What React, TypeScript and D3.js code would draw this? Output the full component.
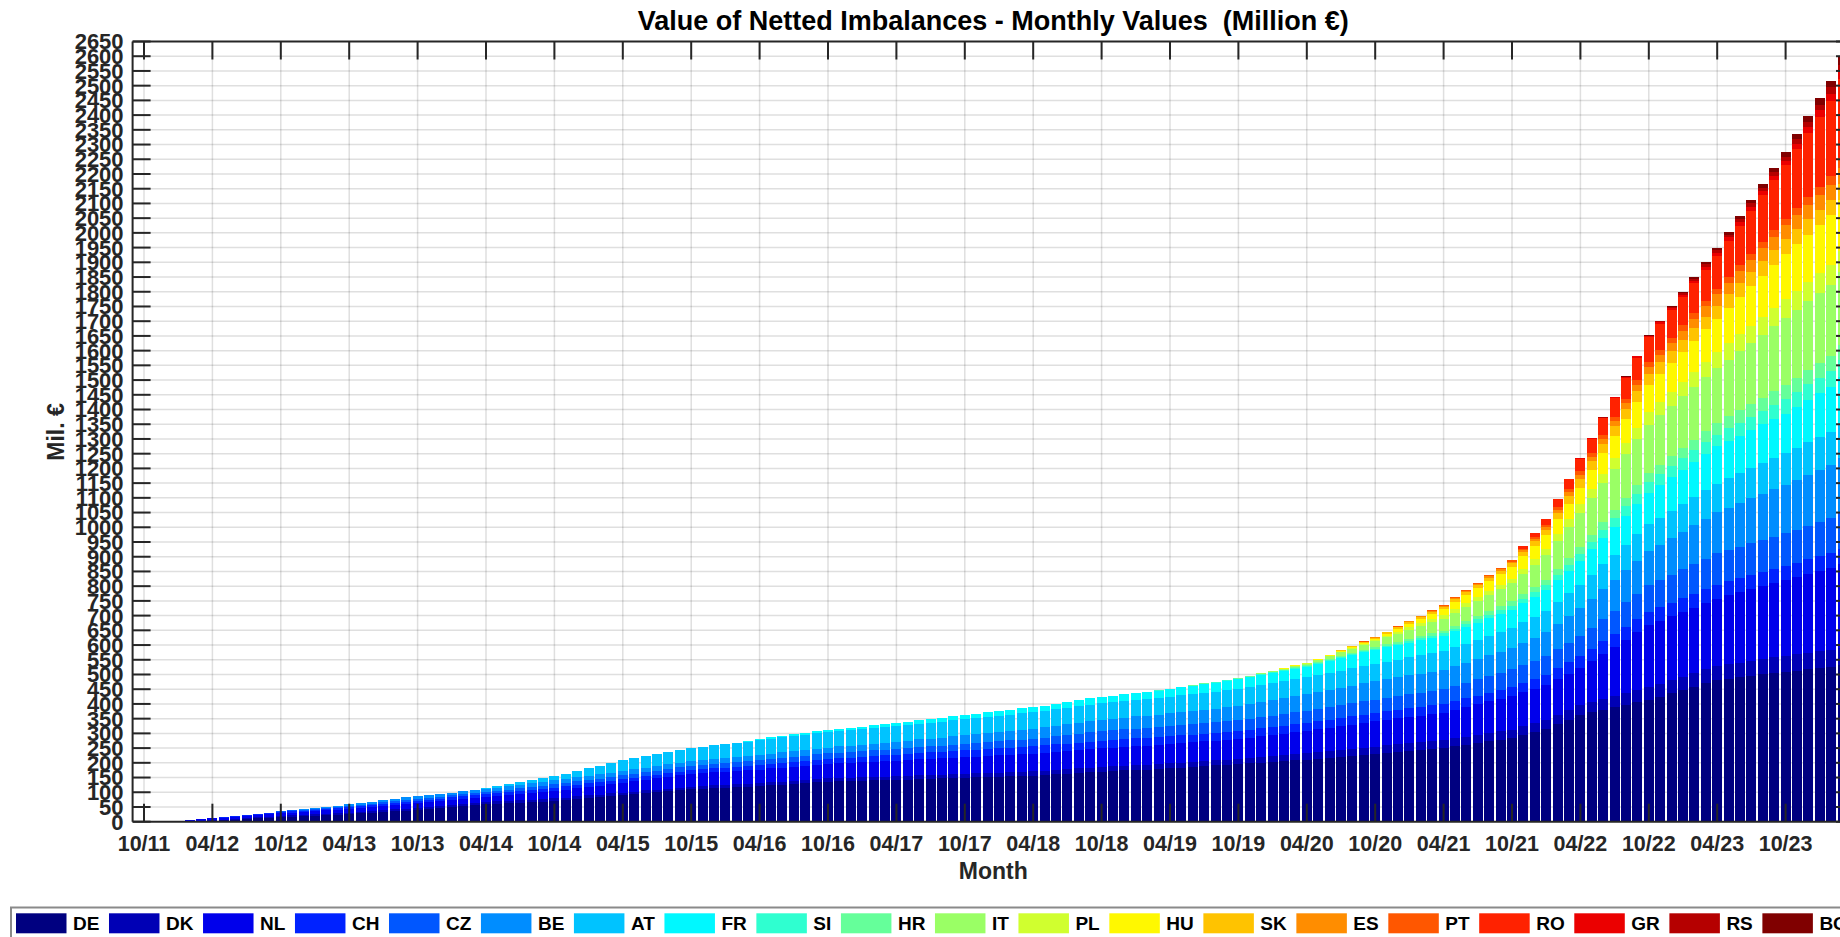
import React, { useEffect, useRef } from "react";
import * as d3 from "d3";

// months are counted from 10/2011 (index 0) up to 03/2024 (index 149)
const MONTHS = 150;

const countries = ["DE", "DK", "NL", "CH", "CZ", "BE", "AT", "FR", "SI", "HR", "IT", "PL", "HU", "SK", "ES", "PT", "RO", "GR", "RS", "BG"];

// first month index of each array below
const startMonth: Record<string, number> = {
    DE: 4, DK: 4, NL: 4, CH: 5, CZ: 7, BE: 12, AT: 30, FR: 52, SI: 88, HR: 88,
    IT: 95, PL: 100, HU: 100, SK: 104, ES: 106, PT: 107, RO: 118, GR: 124, RS: 125, BG: 129,
};

// cumulative value per country, Mil. €
const DE = [1, 2, 3, 5, 7, 9, 11, 13, 15, 17, 18, 20, 22, 23, 25, 28, 30, 33, 35, 38, 40, 43, 46, 50, 53, 56, 59, 61, 63, 65, 66, 68, 70, 73, 77, 80, 83, 87, 90, 93, 97, 100, 103, 107, 110, 112, 114, 116, 117, 119, 121, 124, 126, 129, 131, 134, 136, 137, 138, 139, 140, 141, 142, 143, 145, 146, 147, 149, 150, 151, 152, 153, 154, 155, 156, 158, 161, 163, 165, 168, 170, 172, 174, 176, 177, 179, 181, 184, 186, 189, 191, 194, 196, 198, 201, 203, 205, 208, 210, 213, 217, 220, 223, 227, 230, 234, 237, 241, 244, 248, 251, 257, 262, 268, 274, 279, 285, 295, 306, 316, 332, 347, 363, 371, 380, 388, 396, 405, 413, 424, 436, 447, 458, 470, 481, 486, 490, 495, 500, 504, 509, 513, 518, 522, 526, 532];
const DK = [1, 1.5, 2, 2.3, 2.7, 3, 3.3, 3.7, 4, 4.3, 4.7, 5, 5.3, 5.7, 6, 6.2, 6.3, 6.5, 6.7, 6.8, 7, 7.3, 7.7, 8, 8.3, 8.7, 9, 9, 9, 9, 9, 9, 9, 9, 9, 9, 9, 9, 9, 9, 9, 9, 9, 9, 9, 9.2, 9.3, 9.5, 9.7, 9.8, 10, 10.2, 10.3, 10.5, 10.7, 10.8, 11, 11.2, 11.3, 11.5, 11.7, 11.8, 12, 12.2, 12.3, 12.5, 12.7, 12.8, 13, 13.3, 13.7, 14, 14.3, 14.7, 15, 15.2, 15.3, 15.5, 15.7, 15.8, 16, 16.2, 16.3, 16.5, 16.7, 16.8, 17, 17, 17, 17, 17, 17, 17, 17.8, 18.7, 19.5, 20.3, 21.2, 22, 22.5, 23, 23.5, 24, 24.5, 25, 25.2, 25.3, 25.5, 25.7, 25.8, 26, 26.3, 26.7, 27, 27.3, 27.7, 28, 28.7, 29.3, 30, 31.3, 32.7, 34, 35.5, 37, 38.5, 40, 41.5, 43, 43.8, 44.7, 45.5, 46.3, 47.2, 48, 49.2, 50.3, 51.5, 52.7, 53.8, 55, 55.5, 56, 56.5, 57, 58];
const NL = [4, 5, 6, 6.5, 7, 7.5, 8, 8.5, 9, 9.5, 10, 10.5, 11, 11.5, 12, 12.5, 13, 13.5, 14, 14.5, 15, 15.2, 15.3, 15.5, 15.7, 15.8, 16, 17.7, 19.3, 21, 22.7, 24.3, 26, 27.2, 28.3, 29.5, 30.7, 31.8, 33, 34.7, 36.3, 38, 39.7, 41.3, 43, 43.5, 44, 44.5, 45, 45.5, 46, 46.5, 47, 47.5, 48, 48.5, 49, 49.7, 50.3, 51, 51.7, 52.3, 53, 53.5, 54, 54.5, 55, 55.5, 56, 56.7, 57.3, 58, 58.7, 59.3, 60, 60.5, 61, 61.5, 62, 62.5, 63, 63.5, 64, 64.5, 65, 65.5, 66, 66.3, 66.7, 67, 67.3, 67.7, 68, 69.3, 70.7, 72, 73.3, 74.7, 76, 77.7, 79.3, 81, 82.7, 84.3, 86, 87.2, 88.3, 89.5, 90.7, 91.8, 93, 96.5, 100, 103.5, 107, 110.5, 114, 115.3, 116.7, 118, 120, 122, 124, 138.5, 153, 167.5, 182, 196.5, 211, 214, 217, 220, 223, 226, 229, 233.8, 238.7, 243.5, 248.3, 253.2, 258, 263.5, 269, 274.5, 280, 286];
const CH = [0.5, 1, 1.5, 2, 2.5, 3, 3.5, 4, 4.3, 4.7, 5, 5.3, 5.7, 6, 6.5, 7, 7.5, 8, 8.5, 9, 9, 9, 9, 9, 9, 9, 9.3, 9.7, 10, 10.3, 10.7, 11, 11.2, 11.3, 11.5, 11.7, 11.8, 12, 12.2, 12.3, 12.5, 12.7, 12.8, 13, 13.3, 13.7, 14, 14.3, 14.7, 15, 15.3, 15.7, 16, 16.3, 16.7, 17, 17.7, 18.3, 19, 19.7, 20.3, 21, 21.5, 22, 22.5, 23, 23.5, 24, 24.2, 24.3, 24.5, 24.7, 24.8, 25, 25.2, 25.3, 25.5, 25.7, 25.8, 26, 26, 26, 26, 26, 26, 26, 26.2, 26.3, 26.5, 26.7, 26.8, 27, 27, 27, 27, 27, 27, 27, 27.2, 27.3, 27.5, 27.7, 27.8, 28, 28.3, 28.7, 29, 29.3, 29.7, 30, 30, 30, 30, 30, 30, 30, 31.7, 33.3, 35, 37.3, 39.7, 42, 42.7, 43.3, 44, 44.7, 45.3, 46, 46.2, 46.3, 46.5, 46.7, 46.8, 47, 47.2, 47.3, 47.5, 47.7, 47.8, 48, 48.3, 48.5, 48.8, 49, 50];
const CZ = [0.5, 1, 1.5, 2, 2.5, 3, 3.2, 3.3, 3.5, 3.7, 3.8, 4, 4.3, 4.7, 5, 5.3, 5.7, 6, 6.2, 6.3, 6.5, 6.7, 6.8, 7, 7.7, 8.3, 9, 9.7, 10.3, 11, 11.3, 11.7, 12, 12.3, 12.7, 13, 13.3, 13.7, 14, 14.3, 14.7, 15, 15.3, 15.7, 16, 16.3, 16.7, 17, 17.3, 17.7, 18, 18.3, 18.7, 19, 19.2, 19.3, 19.5, 19.7, 19.8, 20, 20.2, 20.3, 20.5, 20.7, 20.8, 21, 21.8, 22.7, 23.5, 24.3, 25.2, 26, 27, 28, 29, 30, 31, 32, 32.5, 33, 33.5, 34, 34.5, 35, 35.2, 35.3, 35.5, 35.7, 35.8, 36, 36.8, 37.7, 38.5, 39.3, 40.2, 41, 41.8, 42.7, 43.5, 44.3, 45.2, 46, 46.7, 47.3, 48, 48.7, 49.3, 50, 51.7, 53.3, 55, 56.7, 58.3, 60, 61, 62, 63, 64.7, 66.3, 68, 71.7, 75.3, 79, 82.7, 86.3, 90, 92.7, 95.3, 98, 100.7, 103.3, 106, 106.5, 107, 107.5, 108, 108.5, 109, 111.8, 114.5, 117.3, 120, 124];
const BE = [1, 1.8, 2.7, 3.5, 4.3, 5.2, 6, 6.7, 7.3, 8, 8.7, 9.3, 10, 10, 10, 10, 10, 10, 10, 10.7, 11.3, 12, 12.7, 13.3, 14, 14.2, 14.3, 14.5, 14.7, 14.8, 15, 15.2, 15.3, 15.5, 15.7, 15.8, 16, 16.3, 16.7, 17, 17.3, 17.7, 18, 18.3, 18.7, 19, 19.3, 19.7, 20, 20.7, 21.3, 22, 22.7, 23.3, 24, 24.8, 25.7, 26.5, 27.3, 28.2, 29, 29.8, 30.7, 31.5, 32.3, 33.2, 34, 34.8, 35.7, 36.5, 37.3, 38.2, 39, 39.7, 40.3, 41, 41.7, 42.3, 43, 43.8, 44.7, 45.5, 46.3, 47.2, 48, 49.5, 51, 52.5, 54, 55.5, 57, 57.8, 58.7, 59.5, 60.3, 61.2, 62, 62.7, 63.3, 64, 64.7, 65.3, 66, 67.2, 68.3, 69.5, 70.7, 71.8, 73, 75.7, 78.3, 81, 85.3, 89.7, 94, 97.7, 101.3, 105, 108.7, 112.3, 116, 120, 124, 128, 132, 136, 140, 144.3, 148.7, 153, 157.3, 161.7, 166, 169.5, 173, 176.5, 180, 186];
const AT = [4, 5.7, 7.3, 9, 10.7, 12.3, 14, 17.8, 21.7, 25.5, 29.3, 33.2, 37, 38.2, 39.3, 40.5, 41.7, 42.8, 44, 45, 46, 47, 48, 49, 50, 50.3, 50.7, 51, 51.3, 51.7, 52, 52.2, 52.3, 52.5, 52.7, 52.8, 53, 53.3, 53.7, 54, 54.3, 54.7, 55, 55.2, 55.3, 55.5, 55.7, 55.8, 56, 56, 56, 56, 56, 56, 56, 56, 56, 56, 56, 56, 56, 56.3, 56.7, 57, 57.3, 57.7, 58, 58, 58, 58, 58, 58, 58, 58.2, 58.3, 58.5, 58.7, 58.8, 59, 59.7, 60.3, 61, 61.7, 62.3, 63, 63.8, 64.7, 65.5, 66.3, 67.2, 68, 69.7, 71.3, 73, 75.3, 77.7, 80, 81.8, 83.7, 85.5, 87.3, 89.2, 91, 92, 93, 94, 95, 96, 97, 98.8, 100.7, 102.5, 104.3, 106.2, 108, 108.8, 109.5, 110.3, 111, 114];
const FR = [1.3, 2.7, 4, 4.5, 5, 5.5, 6, 6.5, 7, 7.5, 8, 8.5, 9, 9.5, 10, 10.7, 11.3, 12, 12.7, 13.3, 14, 14.5, 15, 15.5, 16, 16.5, 17, 17.8, 18.7, 19.5, 20.3, 21.2, 22, 22.7, 23.3, 24, 24.7, 25.3, 26, 27.3, 28.7, 30, 31.3, 32.7, 34, 34.3, 34.7, 35, 35.3, 35.7, 36, 38, 40, 42, 44, 46, 48, 48.7, 49.3, 50, 50.7, 51.3, 52, 53.7, 55.3, 57, 58.7, 60.3, 62, 64.7, 67.3, 70, 74, 78, 82, 86, 90, 94, 98, 102, 106, 109.5, 113, 116.5, 120, 123.5, 127, 128, 129, 130, 131, 132, 133, 138.3, 143.5, 148.8, 154, 160];
const SI = [0.2, 0.3, 0.5, 0.7, 0.8, 1, 1.2, 1.3, 1.5, 1.6, 1.7, 1.8, 1.8, 1.9, 2, 2.3, 2.7, 3, 3.3, 3.7, 4, 4.8, 5.7, 6.5, 7.3, 8.2, 9, 9.8, 10.5, 11.3, 12, 12.8, 13.5, 14.7, 15.8, 17, 18.7, 20.3, 22, 24.7, 27.3, 30, 32.7, 35.3, 38, 38.3, 38.7, 39, 39.3, 39.7, 40, 41.8, 43.7, 45.5, 47.3, 49.2, 51, 52, 53, 54, 55, 57];
const HR = [0.2, 0.3, 0.5, 0.7, 0.8, 1, 1.2, 1.3, 1.5, 1.7, 1.8, 2, 2.2, 2.3, 2.5, 2.8, 3, 3.3, 3.5, 3.8, 4, 4.8, 5.7, 6.5, 7.3, 8.2, 9, 9.9, 10.8, 11.8, 12.7, 13.6, 14.5, 15.7, 16.8, 18, 20, 22, 24, 25.2, 26.3, 27.5, 28.7, 29.8, 31, 32.5, 34, 35.5, 37, 38.5, 40, 41, 42, 43, 44, 45, 46, 47.3, 48.5, 49.8, 51, 53];
const IT = [0.2, 0.5, 1.3, 2, 2.8, 3.5, 4.3, 5, 7.8, 10.7, 13.5, 16.3, 19.2, 22, 25.2, 28.3, 31.5, 34.7, 37.8, 41, 44.5, 48, 51.5, 55, 58.5, 62, 69.3, 76.7, 84, 94.7, 105.3, 116, 124, 132, 140, 148, 156, 164, 167.7, 171.3, 175, 178.7, 182.3, 186, 193, 200, 207, 214, 221, 228, 231, 234, 237, 240, 248];
const PL = [0.5, 1, 1.5, 1.7, 1.8, 2, 2.2, 2.3, 2.5, 4.1, 5.7, 7.3, 8.8, 10.4, 12, 12.3, 12.7, 13, 13.3, 13.7, 14, 16, 18, 20, 23, 26, 29, 31, 33, 35, 37, 39, 41, 43.3, 45.7, 48, 50.3, 52.7, 55, 56.3, 57.7, 59, 60.3, 61.7, 63, 64.3, 65.5, 66.8, 68, 71];
const HU = [0.5, 1, 1.5, 2.1, 2.7, 3.3, 3.8, 4.4, 5, 7.3, 9.7, 12, 14.3, 16.7, 19, 22.8, 26.7, 30.5, 34.3, 38.2, 42, 44, 46, 48, 51, 54, 57, 63.2, 69.3, 75.5, 81.7, 87.8, 94, 97.2, 100.3, 103.5, 106.7, 109.8, 113, 119.8, 126.7, 133.5, 140.3, 147.2, 154, 157.5, 161, 164.5, 168, 174];
const SK = [0.5, 1.2, 2, 2.7, 3.5, 4.4, 5.3, 6.3, 7.2, 8.1, 9, 9.3, 9.7, 10, 10.3, 10.7, 11, 13.3, 15.7, 18, 21.7, 25.3, 29, 30.5, 32, 33.5, 35, 36.5, 38, 39, 40, 41, 42, 43, 44, 45.2, 46.3, 47.5, 48.7, 49.8, 51, 51.3, 51.5, 51.8, 52, 54];
const ES = [0.5, 1, 1.5, 1.8, 2.2, 2.5, 2.8, 3.2, 3.5, 4, 4.5, 5, 5.5, 6, 6.5, 7.5, 8.5, 9.5, 11, 12.5, 14, 15.3, 16.7, 18, 19.3, 20.7, 22, 24.7, 27.3, 30, 32.7, 35.3, 38, 39.7, 41.3, 43, 44.7, 46.3, 48, 48.8, 49.5, 50.3, 51, 53];
const PT = [0.3, 0.5, 0.8, 1.2, 1.5, 1.8, 2.2, 2.5, 2.8, 3, 3.3, 3.5, 3.8, 4, 5, 6, 7, 8.7, 10.3, 12, 12.8, 13.7, 14.5, 15.3, 16.2, 17, 17.5, 18, 18.5, 19, 19.5, 20, 20.2, 20.3, 20.5, 20.7, 20.8, 21, 23.5, 26, 28.5, 31, 33];
const RO = [0.5, 1.2, 2, 8, 14, 20, 27.3, 34.7, 42, 49, 56, 63, 70, 77, 84, 88.2, 92.3, 96.5, 100.7, 104.8, 109, 121.3, 133.7, 146, 158.3, 170.7, 183, 201, 219, 237, 255, 268];
const GR = [0.7, 1.3, 2, 2.3, 2.7, 3, 3.3, 3.7, 4, 5.3, 6.7, 8, 9.3, 10.7, 12, 12.3, 12.7, 13, 13.3, 13.7, 14, 16.5, 19, 21.5, 24, 26];
const RS = [0.5, 1, 1.2, 1.3, 1.5, 1.7, 1.8, 2, 3.2, 4.3, 5.5, 6.7, 7.8, 9, 9.8, 10.7, 11.5, 12.3, 13.2, 14, 16, 18, 20, 22, 24];
const BG = [0.5, 0.8, 1.2, 1.5, 2.6, 3.7, 4.8, 5.8, 6.9, 8, 9.5, 11, 12.5, 14, 15.5, 17, 18.5, 20, 21.5, 23, 25];

const seriesValues: Record<string, number[]> = { DE, DK, NL, CH, CZ, BE, AT, FR, SI, HR, IT, PL, HU, SK, ES, PT, RO, GR, RS, BG };

const xTickLabels = ["10/11", "04/12", "10/12", "04/13", "10/13", "04/14", "10/14", "04/15", "10/15", "04/16", "10/16", "04/17", "10/17",
    "04/18", "10/18", "04/19", "10/19", "04/20", "10/20", "04/21", "10/21", "04/22", "10/22", "04/23", "10/23"];

const FONT = "'Liberation Sans', Arial, Helvetica, sans-serif";
const AXIS = "#262626";

// matlab style jet colour
const jet = (t: number) => {
    const c = (v: number) => Math.max(0, Math.min(1, v)) * 255;
    return d3.rgb(c(1.5 - Math.abs(4 * t - 3)), c(1.5 - Math.abs(4 * t - 2)), c(1.5 - Math.abs(4 * t - 1))).formatHex();
};

const textWidth = (txt: string, font: string) => {
    const ctx = document.createElement("canvas").getContext("2d");
    if (!ctx) return txt.length * 12;
    ctx.font = font;
    return ctx.measureText(txt).width;
};

const NettedChart = () => {
    const d3Container = useRef<SVGSVGElement>(null);

    useEffect(() => {
        if (!d3Container.current) return;
        const svg = d3.select(d3Container.current);
        svg.selectAll("*").remove();

        const left = 132.6, right = 1854, top = 41.5, bottom = 821.7;
        const x = d3.scaleLinear().domain([-1, 150]).range([left, right]);
        const y = d3.scaleLinear().domain([0, 2650]).range([bottom, top]);
        const color = (i: number) => jet(i / (countries.length - 1));

        const rows = d3.range(MONTHS).map((m) => {
            const r: any = { m };
            countries.forEach((c) => {
                const s = startMonth[c];
                r[c] = m >= s ? seriesValues[c][m - s] ?? 0 : 0;
            });
            return r;
        });
        const layers = d3.stack<any>().keys(countries)(rows);

        svg.append("rect").attr("width", 1840).attr("height", 937).attr("fill", "#fff");

        const yTicks = d3.range(0, 2651, 50);
        const xTicks = xTickLabels.map((_, i) => i * 6);

        // grid
        const grid = svg.append("g").attr("stroke", AXIS).attr("stroke-opacity", 0.15).attr("stroke-width", 1.5);
        grid.selectAll(".hg").data(yTicks.slice(1, -1)).enter().append("line")
            .attr("x1", left).attr("x2", right)
            .attr("y1", (d) => y(d)).attr("y2", (d) => y(d));
        grid.selectAll(".vg").data(xTicks).enter().append("line")
            .attr("y1", top).attr("y2", bottom)
            .attr("x1", (d) => x(d)).attr("x2", (d) => x(d));

        // stacked bars
        const barW = 10;
        svg.append("g").attr("shape-rendering", "crispEdges")
            .selectAll("g").data(layers).enter().append("g")
            .attr("fill", (_, i) => color(i))
            .selectAll("rect")
            .data((d) => d.filter((p) => p[1] - p[0] > 0))
            .enter().append("rect")
            .attr("x", (p: any) => x(p.data.m) - barW / 2)
            .attr("width", barW)
            .attr("y", (p) => y(p[1]))
            .attr("height", (p) => y(p[0]) - y(p[1]));

        // axes box
        const ax = svg.append("g").attr("stroke", AXIS).attr("stroke-width", 2).attr("fill", "none");
        ax.append("line").attr("x1", left).attr("x2", right).attr("y1", bottom).attr("y2", bottom);
        ax.append("line").attr("x1", left).attr("x2", right).attr("y1", top).attr("y2", top);
        ax.append("line").attr("x1", left).attr("x2", left).attr("y1", top).attr("y2", bottom);
        ax.append("line").attr("x1", right).attr("x2", right).attr("y1", top).attr("y2", bottom);

        const tickLen = 18;
        ax.selectAll(".yl").data(yTicks).enter().append("line")
            .attr("x1", left).attr("x2", left + tickLen)
            .attr("y1", (d) => y(d)).attr("y2", (d) => y(d));
        ax.selectAll(".yr").data(yTicks).enter().append("line")
            .attr("x1", right).attr("x2", right - tickLen)
            .attr("y1", (d) => y(d)).attr("y2", (d) => y(d));
        ax.selectAll(".xb").data(xTicks).enter().append("line")
            .attr("x1", (d) => x(d)).attr("x2", (d) => x(d))
            .attr("y1", bottom).attr("y2", bottom - tickLen);
        ax.selectAll(".xt").data(xTicks).enter().append("line")
            .attr("x1", (d) => x(d)).attr("x2", (d) => x(d))
            .attr("y1", top).attr("y2", top + tickLen);

        // tick labels
        svg.append("g").selectAll("text").data(yTicks).enter().append("text")
            .text((d) => d)
            .attr("x", left - 9)
            .attr("y", (d) => y(d))
            .attr("dy", "0.36em")
            .style("text-anchor", "end")
            .style("font-family", FONT).style("font-weight", "bold").style("font-size", "22px")
            .style("fill", AXIS);

        svg.append("g").selectAll("text").data(xTickLabels).enter().append("text")
            .text((d) => d)
            .attr("x", (_, i) => x(xTicks[i]))
            .attr("y", 851)
            .style("text-anchor", "middle")
            .style("font-family", FONT).style("font-weight", "bold").style("font-size", "21.5px")
            .style("fill", AXIS);

        // titles
        svg.append("text").text("Value of Netted Imbalances - Monthly Values\u00a0\u00a0(Million €)")
            .attr("x", (left + right) / 2).attr("y", 29.5)
            .style("text-anchor", "middle")
            .style("font-family", FONT).style("font-weight", "bold").style("font-size", "27px").style("fill", "#000");
        svg.append("text").text("Month")
            .attr("x", (left + right) / 2).attr("y", 879)
            .style("text-anchor", "middle")
            .style("font-family", FONT).style("font-weight", "bold").style("font-size", "23px").style("fill", AXIS);
        svg.append("text").text("Mil. €")
            .attr("transform", "translate(64,432) rotate(-90)")
            .style("text-anchor", "middle")
            .style("font-family", FONT).style("font-weight", "bold").style("font-size", "23px").style("fill", AXIS);

        // legend
        const legend = svg.append("g");
        legend.append("rect")
            .attr("x", 11).attr("y", 907.5).attr("width", 1900).attr("height", 60)
            .attr("fill", "#fff").attr("stroke", "#8a8a8a").attr("stroke-width", 2);
        const legendFont = `bold 19px ${FONT}`;
        let lx = 16;
        countries.forEach((c, i) => {
            legend.append("rect")
                .attr("x", lx).attr("y", 913.3).attr("width", 50.5).attr("height", 20)
                .attr("fill", color(i));
            legend.append("text").text(c)
                .attr("x", lx + 57).attr("y", 930)
                .style("font-family", FONT).style("font-weight", "bold").style("font-size", "19px").style("fill", "#000");
            lx += 57 + textWidth(c, legendFont) + 9.6;
        });
    }, []);

    return (
        <svg ref={d3Container} width={1840} height={937}
            style={{ position: "absolute", left: 0, top: 0, display: "block" }} />
    );
};

export default function App() {
    return <NettedChart />;
}
